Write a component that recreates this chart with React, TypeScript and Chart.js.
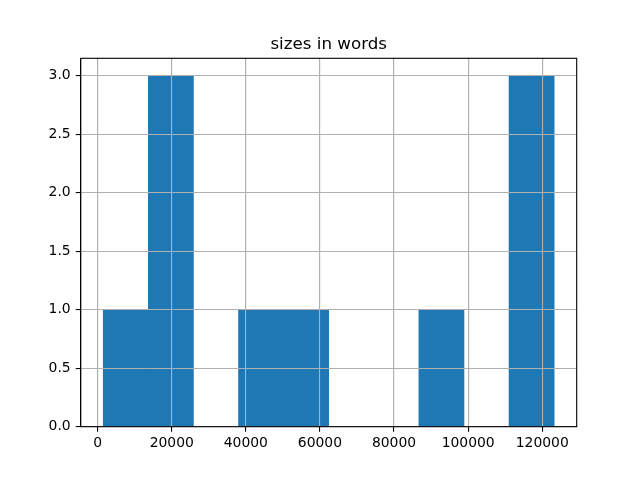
import React, { useEffect, useRef } from "react";
import { Chart, registerables } from "chart.js";

Chart.register(...registerables);

const TITLE = "sizes in words";
const binEdges = [1515, 13685, 25855, 38025, 50195, 62365, 74535, 86705, 98875, 111045, 123215];
const counts = [1, 3, 0, 1, 1, 0, 0, 1, 0, 3];
const xTicks = [0, 20000, 40000, 60000, 80000, 100000, 120000];
const yTicks = [0, 0.5, 1.0, 1.5, 2.0, 2.5, 3.0];

const FONT = "'DejaVu Sans', sans-serif";
const GRID_W = 1.1;

function align(pixel: number, width: number) {
  const half = width / 2;
  return Math.round(pixel - half) + half;
}

export default function App() {
  const ref = useRef<HTMLCanvasElement>(null);
  useEffect(() => {
    if (!ref.current) return;
    const data = counts.map((c, i) => ({ x: (binEdges[i] + binEdges[i + 1]) / 2, y: c }));
    const span = binEdges[binEdges.length - 1] - binEdges[0];
    const xMin = binEdges[0] - span * 0.05;
    const xMax = binEdges[binEdges.length - 1] + span * 0.05;
    const yMax = Math.max(...counts) * 1.05;

    const gridOverPlugin = {
      id: "gridOver",
      afterDatasetsDraw(chart: any) {
        const { ctx, chartArea, scales } = chart;
        ctx.save();
        ctx.beginPath();
        ctx.rect(chartArea.left, chartArea.top, chartArea.right - chartArea.left, chartArea.bottom - chartArea.top);
        ctx.clip();
        ctx.strokeStyle = "#b0b0b0";
        ctx.lineWidth = GRID_W;
        ctx.beginPath();
        for (const v of xTicks) {
          const x = align(scales.x.getPixelForValue(v), GRID_W);
          ctx.moveTo(x, chartArea.top);
          ctx.lineTo(x, chartArea.bottom);
        }
        for (const v of yTicks) {
          const y = align(scales.y.getPixelForValue(v), GRID_W);
          ctx.moveTo(chartArea.left, y);
          ctx.lineTo(chartArea.right, y);
        }
        ctx.stroke();
        ctx.restore();
      },
      afterDraw(chart: any) {
        const { ctx, chartArea } = chart;
        ctx.save();
        ctx.strokeStyle = "#000";
        ctx.lineWidth = 1.1;
        ctx.strokeRect(chartArea.left, chartArea.top, chartArea.right - chartArea.left, chartArea.bottom - chartArea.top);
        ctx.fillStyle = "#000";
        ctx.font = `16.7px ${FONT}`;
        ctx.textAlign = "center";
        ctx.textBaseline = "alphabetic";
        ctx.fillText(TITLE, (chartArea.left + chartArea.right) / 2, 49);
        ctx.restore();
      },
    };

    const chart = new Chart(ref.current, {
      type: "bar",
      data: {
        datasets: [
          {
            data,
            backgroundColor: "#1f77b4",
            borderWidth: 0,
            barPercentage: 1,
            categoryPercentage: 1,
          },
        ],
      },
      options: {
        animation: false,
        responsive: false,
        layout: { padding: { left: 0, top: 58.3, right: 63.3, bottom: 0 } },
        plugins: { legend: { display: false }, tooltip: { enabled: false }, title: { display: false } },
        scales: {
          x: {
            type: "linear",
            min: xMin,
            max: xMax,
            offset: false,
            grid: { offset: false, color: "#b0b0b0", lineWidth: GRID_W, tickColor: "#000", tickWidth: 1.1, tickLength: 5 },
            border: { display: true, color: "#000", width: 1.1 },
            ticks: {
              color: "#000",
              font: { family: FONT, size: 13.9 },
              padding: 3,
              maxRotation: 0,
              autoSkip: false,
              callback: (v: any) => String(v),
            },
            afterBuildTicks: (scale: any) => {
              scale.ticks = xTicks.map((v) => ({ value: v }));
            },
            afterFit: (scale: any) => {
              scale.height = 53.3;
            },
          },
          y: {
            type: "linear",
            min: 0,
            max: yMax,
            grid: { color: "#b0b0b0", lineWidth: GRID_W, tickColor: "#000", tickWidth: 1.1, tickLength: 5 },
            border: { display: true, color: "#000", width: 1.1 },
            ticks: {
              color: "#000",
              font: { family: FONT, size: 13.9 },
              padding: 5,
              autoSkip: false,
              callback: (v: any) => Number(v).toFixed(1),
            },
            afterBuildTicks: (scale: any) => {
              scale.ticks = yTicks.map((v) => ({ value: v }));
            },
            afterFit: (scale: any) => {
              scale.width = 80.7;
            },
          },
        },
      },
      plugins: [gridOverPlugin],
    });
    return () => chart.destroy();
  }, []);
  return (
    <div style={{ position: "fixed", left: 0, top: 0, width: 640, height: 480, background: "#fff" }}>
      <canvas ref={ref} width={640} height={480} style={{ width: 640, height: 480 }} />
    </div>
  );
}
